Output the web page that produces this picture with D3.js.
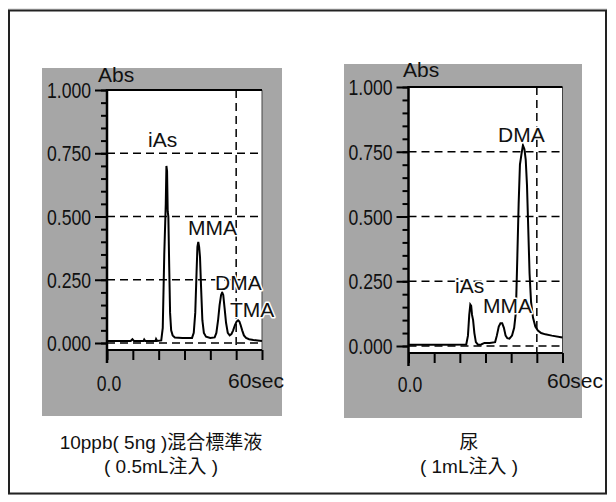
<!DOCTYPE html>
<html>
<head>
<meta charset="utf-8">
<script src="https://cdn.jsdelivr.net/npm/d3@7"></script>
<style>
html,body{margin:0;padding:0;background:#fff;}
svg{display:block;}
</style>
</head>
<body>
<svg id="chart" width="616" height="502"></svg>
<script>
// ---------- DATA ----------
const yTickValues = [0, 0.25, 0.5, 0.75, 1.0];
const yTickLabels = ["0.000", "0.250", "0.500", "0.750", "1.000"];
const xTickValues = [0, 12, 24, 36, 48, 60, 72];
const xStartLabel = "0.0";
const xEndLabel = "60sec";
const yAxisTitle = "Abs";

// Standard mixture chromatogram (time in s, absorbance)
const stdTimes = [0,5,11,11.8,12.5, 17,17.3,17.8, 22.5,22.8,23.3,
  25.2,25.9,26.6,27.3,27.6,27.9,28.2,28.5,28.9,29.3,
  29.8,30.5,31.5,35,39.5,
  40.3,41,41.6,42.0,42.4,42.8,43.2,43.7,44.3,45,
  46,48,50,50.8,51.6,52.3,53.0,53.5,54.0,54.6,
  55.3,56.1,57.0,57.8,58.6,59.4,60.2,60.9,61.5,62.1,
  62.8,63.6,64.6,66,68,70,72];
const stdAbs = [0.008,0.008,0.008,0.015,0.008, 0.008,0.014,0.008, 0.008,0.016,0.008,
  0.01,0.06,0.35,0.55,0.70,0.68,0.52,0.50,0.30,0.12,
  0.05,0.03,0.022,0.02,0.02,
  0.04,0.12,0.28,0.38,0.40,0.38,0.34,0.22,0.09,0.04,
  0.025,0.02,0.022,0.04,0.09,0.15,0.19,0.20,0.19,0.14,
  0.08,0.04,0.03,0.035,0.05,0.07,0.085,0.09,0.085,0.07,
  0.05,0.03,0.02,0.015,0.012,0.01,0.008];
const stdPeakNames = ["iAs", "MMA", "DMA", "TMA"];

// Urine chromatogram
const urineTimes = [0,10,20,27,
  27.8,28.4,28.9,29.3,29.7,30.2,30.8,31.5,32.5,34,35.5,38,
  40.5,41.3,42.2,43,43.8,44.6,45.4,46.2,47.2,48.4,
  49.4,50.2,50.9,51.5,52.1,52.8,53.5,54.2,54.8,55.4,
  56.0,56.6,57.3,58.2,59.3,60.5,62,64,67,72];
const urineAbs = [0.005,0.005,0.005,0.006,
  0.04,0.12,0.16,0.155,0.12,0.10,0.05,0.015,0.005,0.006,0.012,0.012,
  0.015,0.04,0.075,0.088,0.088,0.07,0.04,0.03,0.028,0.04,
  0.07,0.13,0.35,0.55,0.70,0.74,0.775,0.76,0.72,0.62,
  0.45,0.28,0.17,0.11,0.075,0.06,0.05,0.045,0.04,0.033];
const urinePeakNames = ["DMA", "iAs", "MMA"];

const stdCaption = ["10ppb( 5ng )混合標準液", "( 0.5mL注入 )"];
const urineCaption = ["尿", "( 1mL注入 )"];

// ---------- LAYOUT ----------
const panels = [
  {
    times: stdTimes, abs: stdAbs, names: stdPeakNames, caption: stdCaption,
    gray: {x: 42, y: 68, w: 240, h: 348},
    plot: {x0: 107, x1: 262, yTop: 90, yZero: 343, yBottom: 350},
    labelPos: [[148, 147], [188, 235], [215, 290], [230, 317]],
    absPos: [98, 82], zeroLbl: [109, 391], endLbl: [228, 388],
    capX: 161
  },
  {
    times: urineTimes, abs: urineAbs, names: urinePeakNames, caption: urineCaption,
    gray: {x: 344, y: 64, w: 238, h: 354},
    plot: {x0: 408.5, x1: 562.5, yTop: 87, yZero: 346, yBottom: 353},
    labelPos: [[498, 142], [455, 293], [483, 313]],
    absPos: [403, 77], zeroLbl: [410, 392], endLbl: [547, 388],
    capX: 469
  }
];

const svg = d3.select("#chart");
const latin = "'Liberation Sans', Arial, 'Noto Sans CJK JP', sans-serif";
const narrowScale = 0.8;

function narrowText(sel, x, y, anchor, txt) {
  return sel.append("text")
    .attr("transform", `translate(${x},${y}) scale(${narrowScale},1)`)
    .attr("text-anchor", anchor)
    .attr("font-family", latin).attr("font-size", 22).attr("fill", "#111")
    .text(txt);
}

// outer frame
svg.append("rect").attr("x", 8.5).attr("y", 9).attr("width", 598).attr("height", 485)
  .attr("fill", "none").attr("stroke", "#d0d0d0").attr("stroke-width", 1);
svg.append("rect").attr("x", 9).attr("y", 10.5).attr("width", 597).attr("height", 483)
  .attr("fill", "#fff").attr("stroke", "#222").attr("stroke-width", 2);

panels.forEach(p => {
  const g = svg.append("g");
  const P = p.plot;
  g.append("rect").attr("x", p.gray.x).attr("y", p.gray.y)
    .attr("width", p.gray.w).attr("height", p.gray.h).attr("fill", "#a6a6a6");

  const x = d3.scaleLinear().domain([0, 72]).range([P.x0, P.x1]);
  const y = d3.scaleLinear().domain([0, 1]).range([P.yZero, P.yTop]);

  // white plot area
  g.append("rect").attr("x", P.x0).attr("y", P.yTop)
    .attr("width", P.x1 - P.x0).attr("height", P.yBottom - P.yTop).attr("fill", "#fff");
  // right border
  g.append("line").attr("x1", P.x1).attr("x2", P.x1).attr("y1", P.yTop).attr("y2", P.yBottom)
    .attr("stroke", "#444").attr("stroke-width", 1);

  // dashed gridlines
  const grid = g.append("g").attr("stroke", "#000").attr("stroke-width", 1.5)
    .attr("stroke-dasharray", "8,5").attr("fill", "none");
  [0, 0.25, 0.5, 0.75].forEach(v => {
    grid.append("line").attr("x1", P.x0).attr("x2", P.x1).attr("y1", y(v)).attr("y2", y(v));
  });
  grid.append("line").attr("x1", x(60)).attr("x2", x(60)).attr("y1", P.yTop).attr("y2", P.yBottom);

  // signal
  const data = p.times.map((t, i) => [t, p.abs[i]]);
  g.append("path").datum(data)
    .attr("d", d3.line().x(d => x(d[0])).y(d => y(d[1])).curve(d3.curveLinear))
    .attr("fill", "none").attr("stroke", "#000").attr("stroke-width", 2)
    .attr("stroke-linejoin", "miter");

  // y axis (major + minor ticks)
  const yAxisG = g.append("g").attr("transform", `translate(${P.x0},0)`);
  const minor = d3.range(0, 1.0001, 0.05);
  yAxisG.call(d3.axisLeft(y).tickValues(minor).tickSize(6).tickFormat(""));
  yAxisG.select(".domain").remove();
  yAxisG.selectAll(".tick line").attr("stroke", "#000").attr("stroke-width", 2);
  const yMajor = g.append("g").attr("transform", `translate(${P.x0},0)`);
  yMajor.call(d3.axisLeft(y).tickValues(yTickValues).tickSize(12).tickFormat(""));
  yMajor.select(".domain").remove();
  yMajor.selectAll(".tick line").attr("stroke", "#000").attr("stroke-width", 2);
  yTickValues.forEach((v, i) => {
    narrowText(g, P.x0 - 16, y(v) + 8, "end", yTickLabels[i]);
  });

  // axis lines / frame
  g.append("line").attr("x1", P.x0).attr("x2", P.x0).attr("y1", P.yTop - 1).attr("y2", P.yBottom + 13)
    .attr("stroke", "#000").attr("stroke-width", 2.5);
  g.append("line").attr("x1", P.x0).attr("x2", P.x1).attr("y1", P.yTop).attr("y2", P.yTop)
    .attr("stroke", "#000").attr("stroke-width", 2);
  g.append("line").attr("x1", P.x0).attr("x2", P.x1).attr("y1", P.yBottom).attr("y2", P.yBottom)
    .attr("stroke", "#000").attr("stroke-width", 2);

  // x ticks
  const xAxisG = g.append("g").attr("transform", `translate(0,${P.yBottom})`);
  xAxisG.call(d3.axisBottom(x).tickValues(xTickValues).tickSize(10).tickFormat(""));
  xAxisG.select(".domain").remove();
  xAxisG.selectAll(".tick line").attr("stroke", "#000").attr("stroke-width", 2);

  // axis labels
  narrowText(g, p.zeroLbl[0], p.zeroLbl[1], "middle", xStartLabel);
  g.append("text").attr("x", p.endLbl[0]).attr("y", p.endLbl[1])
    .attr("font-family", latin).attr("font-size", 21).attr("fill", "#111").text(xEndLabel);
  g.append("text").attr("x", p.absPos[0]).attr("y", p.absPos[1])
    .attr("font-family", latin).attr("font-size", 21).attr("fill", "#111").text(yAxisTitle);

  // peak labels (white halo)
  p.names.forEach((n, i) => {
    g.append("text").attr("x", p.labelPos[i][0]).attr("y", p.labelPos[i][1])
      .attr("font-family", latin).attr("font-size", 21).attr("fill", "#111")
      .attr("stroke", "#fff").attr("stroke-width", 3).attr("paint-order", "stroke")
      .attr("stroke-linejoin", "round").text(n);
  });

  // captions
  p.caption.forEach((c, i) => {
    g.append("text").attr("x", p.capX).attr("y", 449 + i * 23.5).attr("text-anchor", "middle")
      .attr("font-family", latin).attr("font-size", 19).attr("fill", "#111").text(c);
  });
});
</script>
</body>
</html>
